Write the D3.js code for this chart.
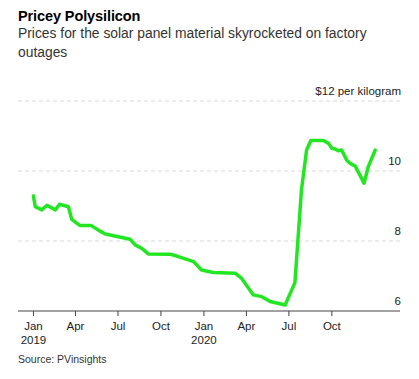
<!DOCTYPE html>
<html>
<head>
<meta charset="utf-8">
<script src="https://cdn.jsdelivr.net/npm/d3@7"></script>
<style>
  body { margin: 0; background: #fff; font-family: "Liberation Sans", Arial, sans-serif; }
  svg { display: block; }
</style>
</head>
<body>
<div id="chart"></div>
<script>
// Polysilicon price, $ per kilogram
const dates = [
  '2019-01-02', '2019-01-06', '2019-01-20', '2019-01-31', '2019-02-18', '2019-02-27',
  '2019-03-18', '2019-03-25', '2019-04-12', '2019-05-06', '2019-05-21', '2019-06-05',
  '2019-07-28', '2019-08-08', '2019-08-22', '2019-09-05', '2019-10-22', '2019-11-05',
  '2019-12-11', '2019-12-28', '2020-01-22', '2020-03-09', '2020-03-23', '2020-04-17',
  '2020-05-05', '2020-05-23', '2020-06-24', '2020-07-15', '2020-07-29', '2020-08-09',
  '2020-08-18', '2020-09-14', '2020-09-25', '2020-10-02', '2020-10-09', '2020-10-16',
  '2020-10-23', '2020-11-03', '2020-11-10', '2020-11-21', '2020-12-01', '2020-12-10',
  '2020-12-19', '2021-01-03'
];
const prices = [
  9.29, 8.98, 8.89, 9.02, 8.89, 9.05,
  8.98, 8.62, 8.44, 8.44, 8.31, 8.20,
  8.05, 7.89, 7.79, 7.63, 7.62, 7.57,
  7.41, 7.17, 7.10, 7.08, 6.93, 6.46,
  6.41, 6.27, 6.17, 6.81, 9.46, 10.60,
  10.87, 10.87, 10.79, 10.65, 10.63, 10.58,
  10.60, 10.31, 10.22, 10.14, 9.89, 9.65,
  10.12, 10.60
];
const yTicks = [6, 8, 10, 12];
const xTicks = ['2019-01-01', '2019-04-01', '2019-07-01', '2019-10-01',
                '2020-01-01', '2020-04-01', '2020-07-01', '2020-10-01'];

const parse = d3.timeParse('%Y-%m-%d');
const data = dates.map((d, i) => ({ date: parse(d), value: prices[i] }));

const width = 419, height = 379;
const svg = d3.select('#chart').append('svg')
  .attr('width', width)
  .attr('height', height);

// Title block
svg.append('text')
  .attr('x', 18).attr('y', 20.5)
  .attr('font-size', 14.5).attr('font-weight', 700)
  .attr('letter-spacing', -0.1)
  .attr('fill', '#000')
  .text('Pricey Polysilicon');

const sub = svg.append('text')
  .attr('font-size', 13.85).attr('fill', '#333');
sub.append('tspan').attr('x', 18).attr('y', 38)
  .text('Prices for the solar panel material skyrocketed on factory');
sub.append('tspan').attr('x', 18).attr('y', 56.5)
  .text('outages');

// Scales
const x = d3.scaleTime()
  .domain([parse('2018-11-30'), parse('2021-02-25')])
  .range([18, 400]);
const y = d3.scaleLinear()
  .domain([6, 12])
  .range([311, 101]);

// Grid lines + labels
const grid = svg.append('g');
grid.selectAll('line')
  .data(yTicks.filter(t => t > 6))
  .join('line')
  .attr('x1', 18).attr('x2', 400)
  .attr('y1', d => y(d)).attr('y2', d => y(d))
  .attr('stroke', '#d9d9d9')
  .attr('stroke-dasharray', '4,3');

grid.selectAll('text')
  .data(yTicks)
  .join('text')
  .attr('x', 401)
  .attr('y', d => y(d) - 6)
  .attr('text-anchor', 'end')
  .attr('font-size', 11.5)
  .attr('fill', '#222')
  .text(d => d === 12 ? '$12 per kilogram' : d);

// X axis
const xAxis = svg.append('g')
  .attr('transform', `translate(0,${y(6)})`)
  .call(d3.axisBottom(x)
    .tickValues(xTicks.map(parse))
    .tickSize(5)
    .tickPadding(6)
    .tickFormat(d => d3.timeFormat('%b')(d)));
xAxis.select('.domain').attr('stroke', '#444').attr('d', `M18,0H400`);
xAxis.selectAll('.tick line').attr('stroke', '#444');
xAxis.selectAll('.tick text')
  .attr('font-size', 11.5)
  .attr('fill', '#222')
  .attr('font-family', '"Liberation Sans", Arial, sans-serif')
  .each(function(d) {
    if (d.getMonth() === 0) {
      d3.select(this).append('tspan')
        .attr('x', 0).attr('dy', '1.2em')
        .text(d.getFullYear());
    }
  });

// Price line
const line = d3.line()
  .x(d => x(d.date))
  .y(d => y(d.value));

svg.append('path')
  .datum(data)
  .attr('fill', 'none')
  .attr('stroke', '#22e622')
  .attr('stroke-width', 3.5)
  .attr('stroke-linejoin', 'round')
  .attr('stroke-linecap', 'round')
  .attr('d', line);

// Source
svg.append('text')
  .attr('x', 18).attr('y', 363)
  .attr('font-size', 10.5)
  .attr('fill', '#333')
  .text('Source: PVinsights');
</script>
</body>
</html>
